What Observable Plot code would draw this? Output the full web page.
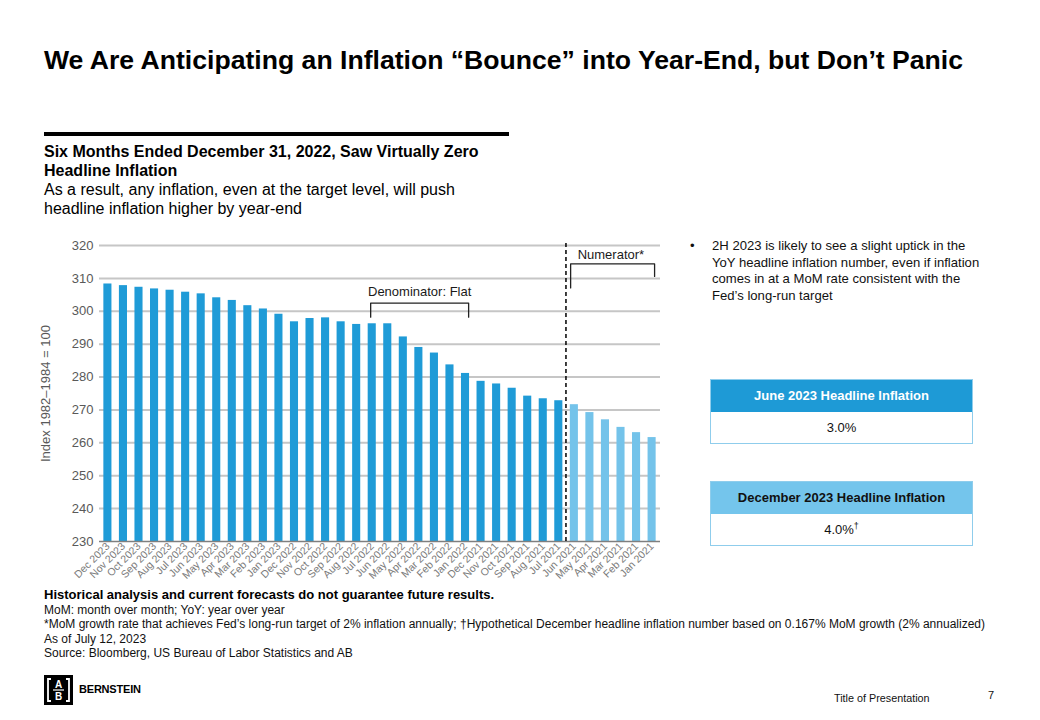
<!DOCTYPE html>
<html><head><meta charset="utf-8">
<script src="https://cdn.jsdelivr.net/npm/d3@7"></script>
<script src="https://cdn.jsdelivr.net/npm/@observablehq/plot@0.6"></script>
<style>
body{margin:0;width:1040px;height:720px;position:relative;background:#fff;font-family:"Liberation Sans",Arial,sans-serif;color:#000;overflow:hidden}
.abs{position:absolute}
#title{left:44px;top:45px;font-size:26.6px;line-height:30px;font-weight:bold;white-space:nowrap}
#rule{left:44px;top:132px;width:465px;height:4px;background:#000}
#sub{left:44px;top:142px;font-size:16px;line-height:19px;white-space:nowrap}
#sub b{font-weight:bold}
#chart{left:30px;top:230px;width:640px;height:358px}
#bullet{left:690px;top:238px;font-size:13.1px;line-height:16.5px;color:#111}
#bullet .dot{position:absolute;left:0;top:0}
#bullet .txt{position:absolute;left:22px;top:0;white-space:nowrap}
.box{position:absolute;left:710px;width:263px;border:1.5px solid #8fcdec;box-sizing:border-box}
.box .hd{height:32px;line-height:32px;text-align:center;font-size:13px;font-weight:bold}
.box .bd{height:31px;line-height:31px;text-align:center;font-size:13px;background:#fff;color:#111}
#b1{top:379px}
#b1 .hd{background:#1e9ad6;color:#fff}
#b2{top:481px}
#b2 .hd{background:#74c5ec;color:#111}
#notes{left:44px;top:588px;font-size:12px;line-height:14.5px;white-space:nowrap;color:#111}
#notes .b{font-weight:bold;font-size:13px;color:#000}
#logo{left:44px;top:675px;width:29px;height:30px;background:#000}
#bern{left:79px;top:683px;font-size:11px;font-weight:bold;letter-spacing:-0.2px}
#tp{left:834px;top:692px;font-size:10.8px;color:#111}
#pg{left:988px;top:689px;font-size:11px;color:#111}
</style></head>
<body>
<div id="title" class="abs">We Are Anticipating an Inflation “Bounce” into Year-End, but Don’t Panic</div>
<div id="rule" class="abs"></div>
<div id="sub" class="abs"><b>Six Months Ended December 31, 2022, Saw Virtually Zero<br>Headline Inflation</b><br>As a result, any inflation, even at the target level, will push<br>headline inflation higher by year-end</div>
<div id="chart" class="abs"></div>
<div id="bullet" class="abs"><span class="dot">•</span><span class="txt">2H 2023 is likely to see a slight uptick in the<br>YoY headline inflation number, even if inflation<br>comes in at a MoM rate consistent with the<br>Fed’s long-run target</span></div>
<div id="b1" class="box"><div class="hd">June 2023 Headline Inflation</div><div class="bd">3.0%</div></div>
<div id="b2" class="box"><div class="hd">December 2023 Headline Inflation</div><div class="bd">4.0%<sup style="font-size:9px;line-height:0">†</sup></div></div>
<div id="notes" class="abs"><span class="b">Historical analysis and current forecasts do not guarantee future results.</span><br>MoM: month over month; YoY: year over year<br>*MoM growth rate that achieves Fed’s long-run target of 2% inflation annually; †Hypothetical December headline inflation number based on 0.167% MoM growth (2% annualized)<br>As of July 12, 2023<br>Source: Bloomberg, US Bureau of Labor Statistics and AB</div>
<svg id="logo" class="abs" viewBox="0 0 29 30">
  <rect width="29" height="30" fill="#000"/>
  <path d="M7 4 H4 V26 H7 M22 4 H25 V26 H22" fill="none" stroke="#fff" stroke-width="1.8"/>
  <line x1="9" y1="15" x2="20" y2="15" stroke="#fff" stroke-width="1.2"/>
  <text x="14.5" y="13" text-anchor="middle" font-size="10" font-weight="bold" fill="#fff" font-family="Liberation Sans">A</text>
  <text x="14.5" y="25" text-anchor="middle" font-size="10" font-weight="bold" fill="#fff" font-family="Liberation Sans">B</text>
</svg>
<div id="bern" class="abs">BERNSTEIN</div>
<div id="tp" class="abs">Title of Presentation</div>
<div id="pg" class="abs">7</div>
<script>
const months = [
  "Dec 2023","Nov 2023","Oct 2023","Sep 2023","Aug 2023","Jul 2023","Jun 2023","May 2023","Apr 2023","Mar 2023","Feb 2023","Jan 2023",
  "Dec 2022","Nov 2022","Oct 2022","Sep 2022","Aug 2022","Jul 2022","Jun 2022","May 2022","Apr 2022","Mar 2022","Feb 2022","Jan 2022",
  "Dec 2021","Nov 2021","Oct 2021","Sep 2021","Aug 2021","Jul 2021","Jun 2021","May 2021","Apr 2021","Mar 2021","Feb 2021","Jan 2021"
];
const cpi = [
  308.3, 307.8, 307.3, 306.8, 306.4, 305.8, 305.3, 304.1, 303.3, 301.7, 300.7, 299.1,
  296.8, 297.8, 298.0, 296.8, 296.0, 296.2, 296.2, 292.2, 289.0, 287.3, 283.7, 281.1,
  278.7, 277.9, 276.6, 274.2, 273.4, 272.8, 271.6, 269.2, 267.0, 264.7, 263.1, 261.6
];
const shade = [
  "dark","dark","dark","dark","dark","dark","dark","dark","dark","dark","dark","dark",
  "dark","dark","dark","dark","dark","dark","dark","dark","dark","dark","dark","dark",
  "dark","dark","dark","dark","dark","dark","light","light","light","light","light","light"
];
const yTicks = [230, 240, 250, 260, 270, 280, 290, 300, 310, 320];
const yLabel = "Index 1982–1984 = 100";

// annotations (x in bar-index units, y in index units)
const divider = 29.46;
const denomBracket = {x: [16.9, 23.2], top: 302.5, bottom: [298.2, 298.2], label: "Denominator: Flat", lx: 20.05, ly: 306.0};
const numerBracket = {x: [29.76, 35.16], top: 314.4, bottom: [307.1, 310.6], label: "Numerator*", lx: 32.35, ly: 317.3};

const idx = d3.range(months.length);
const data = idx.map(i => ({i, label: months[i], value: cpi[i], group: shade[i]}));
const half = 0.26;
const bracketPts = [denomBracket, numerBracket].flatMap((b, k) => [
  {k, x: b.x[0], y: b.bottom[0]}, {k, x: b.x[0], y: b.top}, {k, x: b.x[1], y: b.top}, {k, x: b.x[1], y: b.bottom[1]}
]);
const notes = [denomBracket, numerBracket].map(b => ({x: b.lx, y: b.ly, text: b.label}));

const plot = Plot.plot({
  width: 640, height: 358,
  marginTop: 15, marginBottom: 47, marginLeft: 69, marginRight: 10,
  style: {fontFamily: "Liberation Sans, Arial, sans-serif", fontSize: "13px", background: "transparent", overflow: "visible"},
  x: {type: "linear", domain: [-0.54, 35.54]},
  y: {domain: [230, 320]},
  color: {domain: ["dark", "light"], range: ["#1f9bd7", "#74c3ea"]},
  marks: [
    Plot.ruleY(yTicks.filter(t => t > 230), {stroke: "#c6c6c6", strokeWidth: 2}),
    Plot.rectY(data, {x1: d => d.i - half, x2: d => d.i + half, y1: 230, y2: "value", fill: "group"}),
    Plot.ruleY([230], {stroke: "#7f7f7f", strokeWidth: 1.5}),
    Plot.axisY({ticks: yTicks, tickSize: 0, tickPadding: 6, fontSize: 13, fill: "#595959", label: null}),
    Plot.axisX({ticks: idx, tickFormat: i => months[i], tickRotate: -45, tickSize: 0, tickPadding: 3, fontSize: 10.5, fill: "#7a7a7a", label: null}),
    Plot.text([yLabel], {frameAnchor: "left", textAnchor: "middle", rotate: -90, dx: -54, dy: 0, text: d => d, fontSize: 13, fill: "#595959"}),
    Plot.ruleX([divider], {y1: 230, y2: 320.6, stroke: "#000", strokeWidth: 1.5, strokeDasharray: "4,3"}),
    Plot.line(bracketPts, {x: "x", y: "y", z: "k", stroke: "#222", strokeWidth: 1.3}),
    Plot.text(notes, {x: "x", y: "y", text: "text", fontSize: 13, fill: "#1a1a1a"})
  ]
});
document.getElementById("chart").appendChild(plot);
</script>
</body></html>
